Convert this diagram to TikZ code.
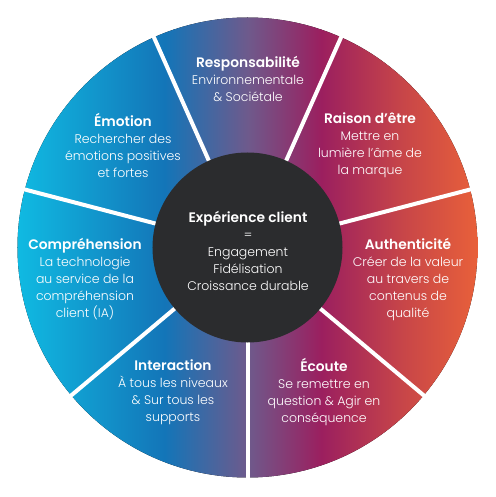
\documentclass[tikz,border=0pt]{standalone}
\usepackage{fontspec}
\setmainfont{Poppins}[UprightFont=* Light, BoldFont=* SemiBold]
\usetikzlibrary{positioning}

\definecolor{wheelcyan}{RGB}{16,186,226}
\definecolor{wheelblue}{RGB}{19,117,184}
\definecolor{wheelpurple}{RGB}{110,90,140}
\definecolor{wheelmagenta}{RGB}{155,31,95}
\definecolor{wheelred}{RGB}{200,70,72}
\definecolor{wheelorange}{RGB}{232,96,58}
\definecolor{hubdark}{RGB}{43,44,46}

\pgfdeclarehorizontalshading{wheelshade}{100bp}{
  color(0bp)=(wheelcyan); color(25bp)=(wheelcyan);
  color(41bp)=(wheelblue); color(50bp)=(wheelpurple);
  color(58bp)=(wheelmagenta); color(67bp)=(wheelred);
  color(75bp)=(wheelorange); color(100bp)=(wheelorange)}

\newcommand{\segtitle}[1]{{\fontsize{13.8}{17}\selectfont\textbf{#1}}}

\tikzset{
  segtext/.style={text=white, align=center, font=\fontsize{12.5}{17}\selectfont},
  divider/.style={white, line width=4pt}
}

\begin{document}
\begin{tikzpicture}[x=1pt,y=1pt]
				\useasboundingbox (-247.5,-249.5) rectangle (247.5,247.5);
				
				% Outer wheel
				\fill[shading=wheelshade] (0,0) circle (230pt);
				
				% Dividers between segments
				\foreach \a in {270,320,14.6,66,114,165.4,220} {
					\draw[divider] (0,0) -- (\a:234);
				}
				
				% Hub
				\fill[hubdark] (0,0) circle (95pt);
				\node[segtext] (hub) at (0.5,-3.5) {\segtitle{Expérience client}\\=\\Engagement\\Fidélisation\\Croissance durable};
				
				% Segment texts
				\node[segtext] (resp) at (0.5,168.5) {\segtitle{Responsabilité}\\Environnementale\\\& Sociétale};
				\node[segtext] (raison) at (122.5,102.5) {\segtitle{Raison d’être}\\Mettre en\\lumière l’âme de\\la marque};
				\node[segtext] (authent) at (160.5,-31.5) {\segtitle{Authenticité}\\Créer de la valeur\\au travers de\\contenus de\\qualité};
				\node[segtext] (ecoute) at (76.5,-145) {\segtitle{Écoute}\\Se remettre en\\question \& Agir en\\conséquence};
				\node[segtext] (interact) at (-74.5,-145) {\segtitle{Interaction}\\À tous les niveaux\\\& Sur tous les\\supports};
				\node[segtext] (compreh) at (-162.5,-31.5) {\segtitle{Compréhension}\\La technologie\\au service de la\\compréhension\\client (IA)};
				\node[segtext] (emotion) at (-124.5,102.5) {\segtitle{Émotion}\\Rechercher des\\émotions positives\\et fortes};
			\end{tikzpicture}
\end{document}
